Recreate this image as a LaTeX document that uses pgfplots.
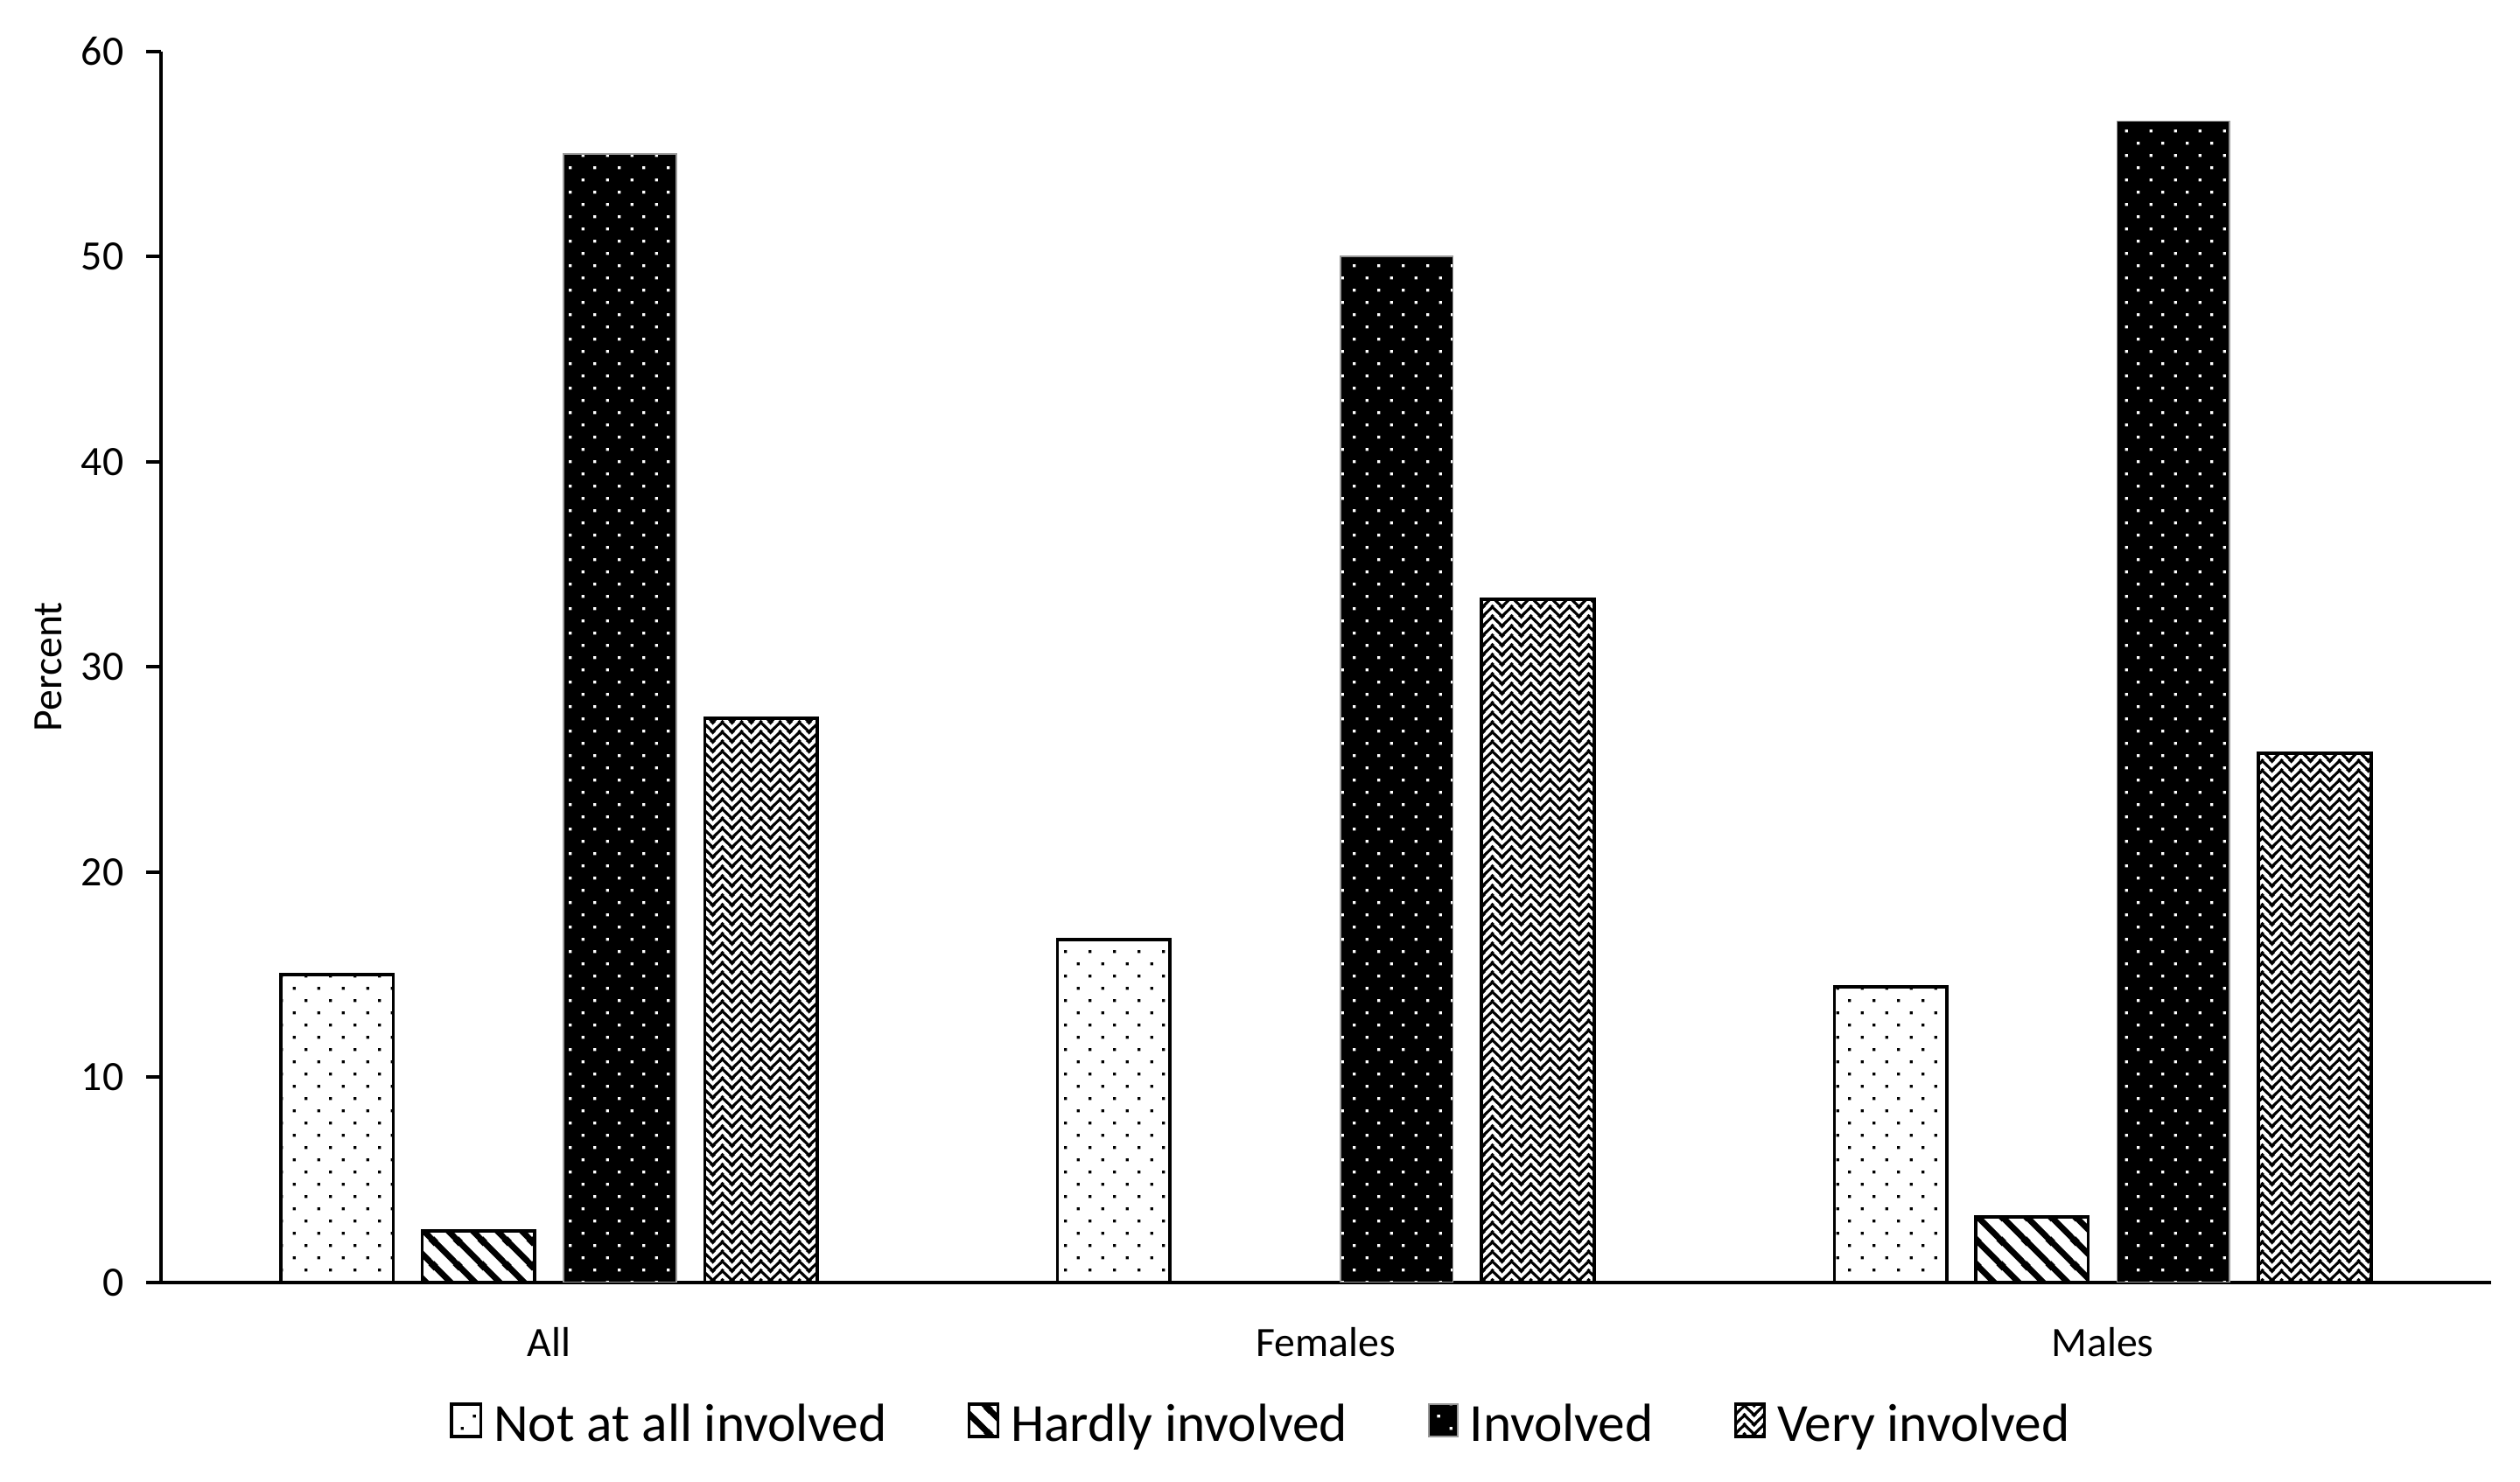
\documentclass[border=0pt]{standalone}
\usepackage{fontspec}
\setmainfont{Carlito}
\usepackage{pgfplots}
\pgfplotsset{compat=1.18}
\usetikzlibrary{patterns}

% staggered dots
\pgfdeclarepatternformonly{sdots}{\pgfqpoint{0pt}{0pt}}{\pgfqpoint{7.5pt}{7.6pt}}{\pgfqpoint{7.5pt}{7.6pt}}{%
  \pgfpathrectangle{\pgfqpoint{1pt}{1pt}}{\pgfqpoint{0.9pt}{0.9pt}}%
  \pgfpathrectangle{\pgfqpoint{4.75pt}{4.8pt}}{\pgfqpoint{0.9pt}{0.9pt}}%
  \pgfusepath{fill}}
% wide diagonal stripes
\pgfdeclarepatternformonly{wstripes}{\pgfqpoint{0pt}{0pt}}{\pgfqpoint{7.5pt}{7.5pt}}{\pgfqpoint{7.5pt}{7.5pt}}{%
  \pgfsetlinewidth{1.9pt}%
  \pgfpathmoveto{\pgfqpoint{-1pt}{8.5pt}}\pgfpathlineto{\pgfqpoint{8.5pt}{-1pt}}%
  \pgfpathmoveto{\pgfqpoint{-1pt}{1pt}}\pgfpathlineto{\pgfqpoint{1pt}{-1pt}}%
  \pgfpathmoveto{\pgfqpoint{6.5pt}{8.5pt}}\pgfpathlineto{\pgfqpoint{8.5pt}{6.5pt}}%
  \pgfusepath{stroke}}
% chevrons
\pgfdeclarepatternformonly{chev}{\pgfqpoint{0pt}{0pt}}{\pgfqpoint{6pt}{3pt}}{\pgfqpoint{6pt}{3pt}}{%
  \pgfsetlinewidth{0.9pt}%
  \pgfpathmoveto{\pgfqpoint{-1pt}{-4pt}}\pgfpathlineto{\pgfqpoint{3pt}{0pt}}\pgfpathlineto{\pgfqpoint{7pt}{-4pt}}%
  \pgfpathmoveto{\pgfqpoint{-1pt}{-1pt}}\pgfpathlineto{\pgfqpoint{3pt}{3pt}}\pgfpathlineto{\pgfqpoint{7pt}{-1pt}}%
  \pgfpathmoveto{\pgfqpoint{-1pt}{2pt}}\pgfpathlineto{\pgfqpoint{3pt}{6pt}}\pgfpathlineto{\pgfqpoint{7pt}{2pt}}%
  \pgfusepath{stroke}}

\begin{document}
\begin{tikzpicture}
\begin{axis}[
  at={(0pt,0pt)}, anchor=south west,
  scale only axis,
  width=725pt, height=383pt,
  xmin=-0.5, xmax=2.5,
  ymin=0, ymax=60,
  ytick={0,10,...,60},
  xtick={0,1,2},
  xticklabels={All,Females,Males},
  axis lines=left,
  axis line style={-, line width=1pt},
  xtick style={draw=none},
  ytick style={line width=1pt, black},
  tick align=outside,
  major tick length=4.5pt,
  ticklabel style={font=\fontsize{13}{15}\selectfont},
  /pgf/number format/assume math mode=true,
  xticklabel style={anchor=base, yshift=-18.5pt},
  yticklabel style={xshift=-3.5pt},
  ylabel={Percent},
  ylabel style={at={(axis description cs:-0.0483,0.5)}, anchor=center, font=\fontsize{13}{15}\selectfont},
  ybar,
  bar width=0.145,
  legend columns=4,
  legend style={draw=none, at={(axis description cs:0.4731,-0.1162)}, anchor=center,
    font=\fontsize{16.7}{20}\selectfont,
    /tikz/every even column/.append style={column sep=23pt}},
  legend image code/.code={\draw[#1] (0pt,-3.5pt) rectangle (9pt,6.5pt); \path (10.5pt,0pt);},
]
\addplot[bar shift=-0.273, draw=black, line width=1pt, pattern=sdots] coordinates {(0,15) (1,16.7) (2,14.4)};
\addlegendentry{Not at all involved}
\addplot[bar shift=-0.091, draw=black, line width=1pt, pattern=wstripes] coordinates {(0,2.5) (1,0) (2,3.2)};
\addlegendentry{Hardly involved}
\addplot[bar shift=0.091, draw=black!40, line width=0.5pt, fill=black,
  postaction={pattern=sdots, pattern color=white}] coordinates {(0,55) (1,50) (2,56.6)};
\addlegendentry{Involved}
\addplot[bar shift=0.273, draw=black, line width=1pt, pattern=chev] coordinates {(0,27.5) (1,33.3) (2,25.8)};
\addlegendentry{Very involved}
\end{axis}
\pgfresetboundingbox
\path (-50pt,-62pt) rectangle (734pt,399pt);
\end{tikzpicture}
\end{document}
